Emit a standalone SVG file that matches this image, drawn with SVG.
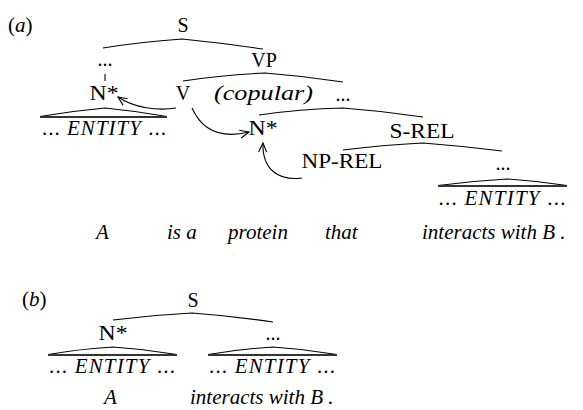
<svg xmlns="http://www.w3.org/2000/svg" width="583" height="410" viewBox="0 0 583 410">
  <style>
    .t { font-family: "Liberation Serif", "Times New Roman", serif; fill: #000; }
    .lab { font-size: 20px; text-anchor: middle; }
    .big { font-size: 21px; text-anchor: middle; }
    .sent { font-size: 21px; font-style: italic; }
    .branch { fill: none; stroke: #000; stroke-width: 1.1; }
    .roof { fill: none; stroke: #000; stroke-width: 1.1; }
    .base { stroke: #333; stroke-width: 2.2; }
    .arc { fill: none; stroke: #000; stroke-width: 1.1; }
  </style>
  <defs>
    <marker id="head" viewBox="0 0 10 10" refX="9" refY="5" markerWidth="10" markerHeight="10" markerUnits="userSpaceOnUse" orient="auto">
      <path d="M0,1 L9,5 L0,9" fill="none" stroke="#000" stroke-width="1.1"/>
    </marker>
  </defs>

  <!-- panel (a) -->
  <g id="panel-a-label"><text class="t" x="8" y="32" font-size="21">(<tspan font-style="italic">a</tspan>)</text></g>
  <g id="a-S"><text class="t lab" x="183" y="32" font-size="21">S</text></g>
  <g id="a-dots1"><text class="t lab" x="105" y="66">...</text></g>
  <g id="a-VP"><text class="t lab" x="264" y="67">VP</text></g>
  <g id="a-N1"><text class="t lab" x="104" y="100" textLength="29" lengthAdjust="spacingAndGlyphs">N*</text></g>
  <g id="a-V"><text class="t lab" x="183" y="100">V</text></g>
  <g id="a-copular"><text class="t" x="214" y="100" font-size="22" font-style="italic" textLength="99" lengthAdjust="spacingAndGlyphs">(copular)</text></g>
  <g id="a-dots2"><text class="t lab" x="343" y="101">...</text></g>
  <g id="a-entity1">
    <path class="roof" d="M40,116.5 Q72,111 105,108 Q136,111 167,116.5"/>
    <line class="base" x1="40" y1="117" x2="167" y2="117"/>
    <text class="t big" x="104" y="135" textLength="124" lengthAdjust="spacing">... <tspan font-style="italic">ENTITY</tspan> ...</text>
  </g>
  <g id="a-N2"><text class="t lab" x="263" y="135" font-size="21" textLength="29" lengthAdjust="spacingAndGlyphs">N*</text></g>
  <g id="a-SREL"><text class="t big" x="422" y="138" textLength="65" lengthAdjust="spacingAndGlyphs">S-REL</text></g>
  <g id="a-NPREL"><text class="t big" x="342" y="168" textLength="81" lengthAdjust="spacingAndGlyphs">NP-REL</text></g>
  <g id="a-dots3"><text class="t lab" x="503" y="170">...</text></g>
  <g id="a-entity2">
    <path class="roof" d="M438,185.5 Q472,181 507,179 Q537,181 567,185.5"/>
    <line class="base" x1="438" y1="186" x2="567" y2="186"/>
    <text class="t big" x="502" y="205" textLength="127" lengthAdjust="spacing">... <tspan font-style="italic">ENTITY</tspan> ...</text>
  </g>
  <g id="a-sentence">
    <text class="t sent" x="96" y="239">A</text>
    <text class="t sent" x="167" y="239">is a</text>
    <text class="t sent" x="228" y="239">protein</text>
    <text class="t sent" x="325" y="239">that</text>
    <text class="t sent" x="422" y="239">interacts with B .</text>
  </g>

  <!-- panel (b) -->
  <g id="panel-b-label"><text class="t" x="22" y="306" font-size="21">(<tspan font-style="italic">b</tspan>)</text></g>
  <g id="b-S"><text class="t lab" x="193" y="307" font-size="21">S</text></g>
  <g id="b-N"><text class="t lab" x="113" y="340" textLength="29" lengthAdjust="spacingAndGlyphs">N*</text></g>
  <g id="b-dots"><text class="t lab" x="273" y="340">...</text></g>
  <g id="b-entity1">
    <path class="roof" d="M48,354.5 Q80,349 113,347 Q145,349 177,354.5"/>
    <line class="base" x1="48" y1="355" x2="177" y2="355"/>
    <text class="t big" x="112" y="373" textLength="126" lengthAdjust="spacing">... <tspan font-style="italic">ENTITY</tspan> ...</text>
  </g>
  <g id="b-entity2">
    <path class="roof" d="M208,354.5 Q240,349 273,347 Q305,349 337,354.5"/>
    <line class="base" x1="208" y1="355" x2="337" y2="355"/>
    <text class="t big" x="272" y="373" textLength="126" lengthAdjust="spacing">... <tspan font-style="italic">ENTITY</tspan> ...</text>
  </g>
  <g id="b-sentence">
    <text class="t sent" x="104" y="404">A</text>
    <text class="t sent" x="190" y="404">interacts with B .</text>
  </g>

  <!-- tree branches and arrows -->
  <g id="connectors">
    <path class="branch" d="M103,48 Q140,42 182,39 Q222,43 263,49"/>
    <line class="branch" x1="105" y1="74" x2="105" y2="81"/>
    <path class="branch" d="M183,81 Q222,75 265,73 Q304,76 343,82"/>
    <path class="branch" d="M259,115 Q300,109 343,108 Q383,111 423,117"/>
    <path class="branch" d="M343,150 Q382,145 423,143 Q462,146 502,151"/>
    <path class="branch" d="M113,320 Q152,315 192,313 Q233,316 273,322"/>
    <path class="arc" marker-end="url(#head)" d="M176,108 C158,111 134,108 118,97"/>
    <path class="arc" marker-end="url(#head)" d="M192,108 C200,126 216,140 249,132"/>
    <path class="arc" marker-end="url(#head)" d="M302,178 C279,181 262,170 263,143"/>
  </g>
</svg>
